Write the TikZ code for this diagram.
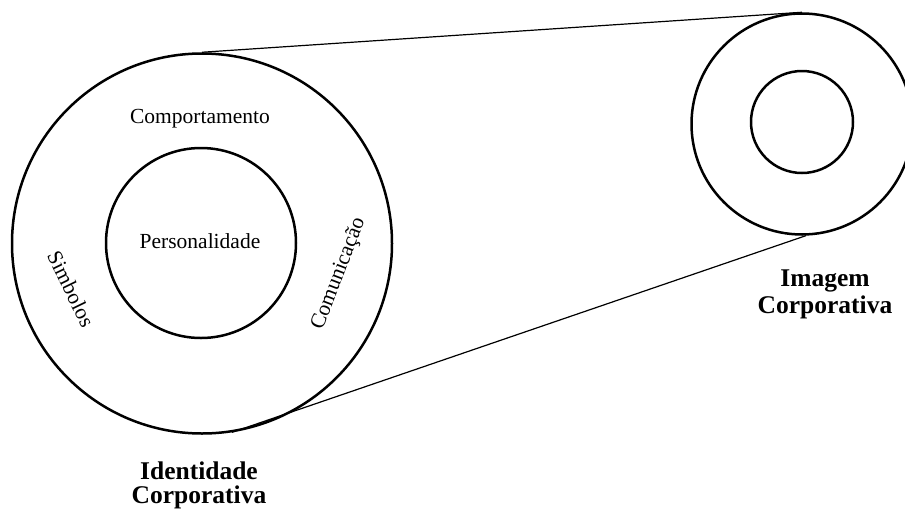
\documentclass[tikz,border=0pt]{standalone}
\usepackage{fontspec}
\setmainfont{Liberation Serif}
\begin{document}
\begin{tikzpicture}[x=1pt,y=-1pt,
  ring/.style={circle, draw, line width=2.5pt, inner sep=0pt},
  link/.style={line width=1.2pt},
  lbl/.style={inner sep=0pt, font=\fontsize{21.5}{26}\selectfont},
  title/.style={inner sep=0pt, align=center, font=\fontsize{25.5}{24}\selectfont\bfseries}]
  \clip (0,0) rectangle (905,512);
  \fill[white] (0,0) rectangle (905,512);

  % identity: outer ring and core
  \node[ring, minimum size=380pt] (big) at (202,243.5) {};
  \node[ring, minimum size=190pt] (core) at (201,243) {};

  % image: outer ring and core
  \node[ring, minimum size=221pt] (small) at (802,124) {};
  \node[ring, minimum size=102pt] (smallcore) at (802,122) {};

  % connecting lines between the two rings
  \draw[link] (big.north) -- (small.north);
  \draw[link] (big.-81) -- (small.-88);

  % texts inside the identity ring
  \node[lbl, anchor=base] (comp) at (200,123) {Comportamento};
  \node[lbl, anchor=base] (pers) at (200,248) {Personalidade};
  \node[lbl, rotate=-64] (simb) at (71,289) {Simbolos};
  \node[lbl, rotate=69] (comu) at (339,274) {Comunicação};

  % captions (anchored on the baseline of their last line)
  \node[title, anchor=base] (idt) at (199,503) {Identidade\\Corporativa};
  \node[title, anchor=base] (img) at (825,313) {Imagem\\[3pt]Corporativa};
\end{tikzpicture}
\end{document}
